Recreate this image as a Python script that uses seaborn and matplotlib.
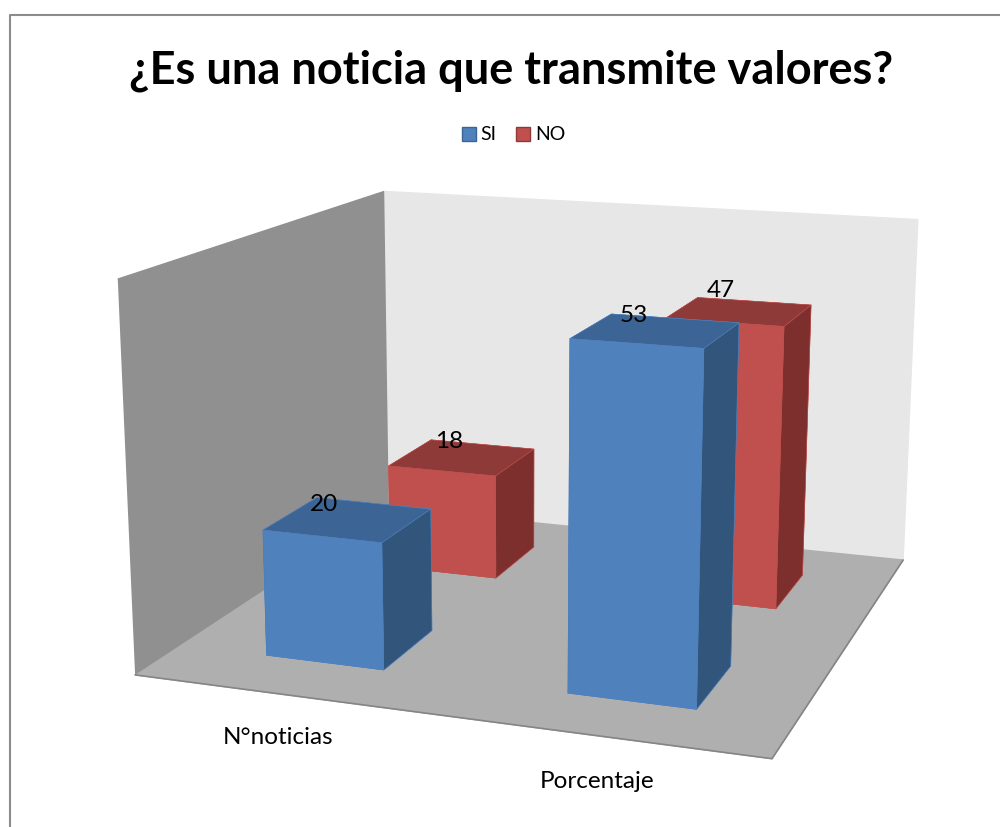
import numpy as np, matplotlib
matplotlib.use('Agg')
import matplotlib.pyplot as plt
import seaborn as sns
from matplotlib.patches import Patch
from matplotlib.lines import Line2D

# ---- data ----
title = "¿Es una noticia que transmite valores?"
categories = ["N°noticias", "Porcentaje"]
series = ["SI", "NO"]
si_values = [20, 53]
no_values = [18, 47]

sns.set_theme(style='white')
plt.rcParams['font.family'] = ['Lato', 'DejaVu Sans']
W, H = 1000, 827
fig = plt.figure(figsize=(W/100, H/100), dpi=100, facecolor='white')
ax = fig.add_axes([0, 0, 0.1, 0.1*W/H], projection='3d', computed_zorder=False)
ax.set_xlim(0, 2); ax.set_ylim(0, 1); ax.set_zlim(0, 60)
ax.view_init(14.057, -70.895, -0.194)
ax.set_proj_type('persp', focal_length=0.457)
ax.set_box_aspect((1.627, 1.608, 1), zoom=1)
# place the 3-D frame so that it lands on the reference's walls
s, Pm, Tm = 4941.41, np.array([-0.00664, -0.00452]), np.array([517.0, 371.0])
L0 = 100.0
ax.set_position([0, 0, L0/W, L0/H]); ax.apply_aspect()
o = ax.transData.transform([[0, 0], [1, 1]])
sp = o[1, 0]-o[0, 0]
L = L0*s/sp
l, b = Tm - s*Pm - o[0]*L/L0
ax.set_position([l/W, b/H, L/W, L/H])
ax.patch.set_visible(False)

for a, c in ((ax.xaxis, '#909090'), (ax.yaxis, '#e7e7e7'), (ax.zaxis, '#afafaf')):
    a.set_pane_color(c)
    a.pane.set_edgecolor(c)
    a.line.set_color((0, 0, 0, 0))
    a.set_ticks([])
    a.label.set_visible(False)
    a.offsetText.set_visible(False)
for t in (ax.title, ax._left_title, ax._right_title):
    t.set_visible(False)
ax.grid(False)
ax.plot([0, 2, 2], [0, 0, 1], [0, 0, 0], color='#858585', lw=1.2, zorder=5)

blue = ['#4f81bd', '#3c6494', '#32557c']
red = ['#c0504d', '#8e3a39', '#7c2f2d']
def facecols(c):  # bar3d order: bottom, top, front, back, left, right
    return [c[0], c[1], c[0], c[0], c[2], c[2]]
bw, bd = 0.40, 0.20
x0 = [0.30, 1.30]
y_front, y_back = 0.15, 0.65
z = 10
# small nudges of the value labels, (x, height), as the source chart placed them
nudge = {'SI': [(-0.044, -1.0), (0.0, 0.0)], 'NO': [(0.0, 0.0), (0.012, 1.4)]}
for name, vals, col, yb in (('NO', no_values, red, y_back), ('SI', si_values, blue, y_front)):
    for i, v in enumerate(vals):
        ax.bar3d(x0[i], yb, 0, bw, bd, v, color=facecols(col), edgecolor=col[0], linewidth=0.4,
                 shade=False, zorder=z); z += 1
        dx, dz = nudge[name][i]
        ax.text(x0[i]+0.07+dx, yb+bd, v+dz, str(v), fontsize=17.5, color='black', ha='center', va='center', zorder=50)
label_x = [0.636, 1.59]
for x, c in zip(label_x, categories):
    ax.text(x, -0.16, 0, c, fontsize=17.5, color='black', ha='center', va='center', zorder=50)

fig.text(511/W, 1-71/H, title, fontsize=32.5, fontweight='bold', color='black', ha='center', va='center')
handles = [Patch(facecolor='#4f81bd', edgecolor='#3c6494'), Patch(facecolor='#c0504d', edgecolor='#8e3a39')]
fig.legend(handles, series, ncol=2, loc='center', bbox_to_anchor=(513.5/W, 1-135/H), frameon=False,
           fontsize=14, labelcolor='black', handlelength=0.72, handleheight=0.72, handletextpad=0.25, columnspacing=1.0)
fig.add_artist(Line2D([9.5/W, 9.5/W, 1], [0, 1-15/H, 1-15/H], color='#8c8c8c', lw=1.5))
fig.savefig('out.png', dpi=100)
